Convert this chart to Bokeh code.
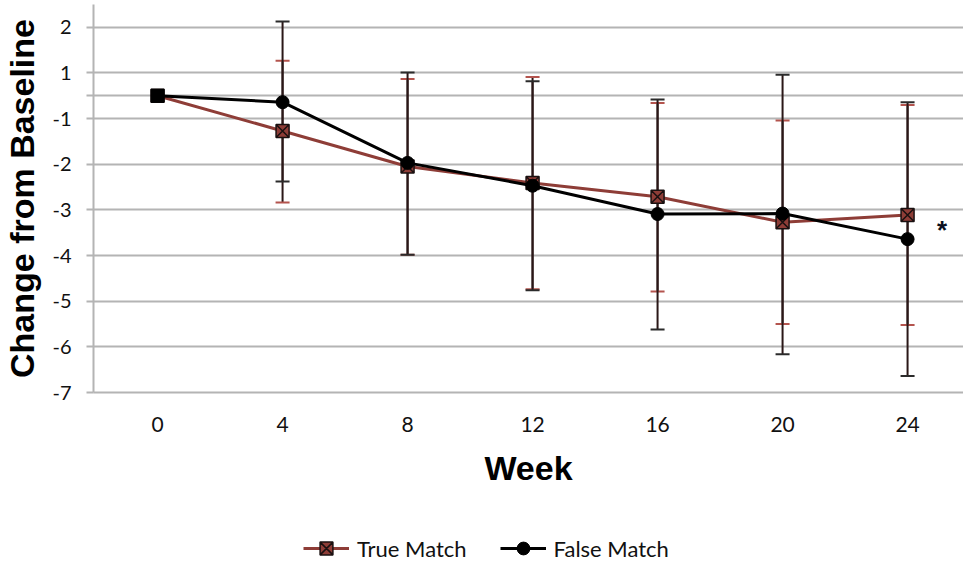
from bokeh.plotting import figure
from bokeh.layouts import column
from bokeh.models import (ColumnDataSource, Whisker, TeeHead, FixedTicker, Range1d,
                          Legend, LegendItem)
from bokeh.core.properties import value
from bokeh.embed import file_html
from bokeh.resources import INLINE

# ---- data ----
weeks = [0, 4, 8, 12, 16, 20, 24]
true_mean = [-0.5, -1.27, -2.05, -2.41, -2.71, -3.27, -3.11]
false_mean = [-0.5, -0.64, -1.97, -2.47, -3.09, -3.08, -3.64]
err_weeks = [4, 8, 12, 16, 20, 24]
true_upper = [0.27, -0.13, -0.09, -0.66, -1.04, -0.70]
true_lower = [-2.84, -3.98, -4.74, -4.79, -5.50, -5.52]
false_upper = [1.13, 0.01, -0.18, -0.58, -0.04, -0.64]
false_lower = [-2.38, -3.98, -4.76, -5.62, -6.16, -6.64]
y_tick_pos = [1, 0, -0.5, -1, -2, -3, -4, -5, -6, -7]
y_tick_labels = ["2", "1", "", "-1", "-2", "-3", "-4", "-5", "-6", "-7"]
x_tick_labels = ["0", "4", "8", "12", "16", "20", "24"]
series_names = ["True Match", "False Match"]
note = "*"

BROWN = "#8e3d37"
BROWN_CAP = "#b4544e"
DARK = "#2a1717"
GRID = "#b4b4b4"

p = figure(width=963, height=515, output_backend="svg", toolbar_location=None,
           x_range=Range1d(-2.05, 25.79), y_range=Range1d(-7, 1.5),
           min_border_left=93, min_border_right=0, min_border_top=4,
           min_border_bottom=123)
p.outline_line_color = None
p.background_fill_color = "white"

# axes
p.xaxis.ticker = FixedTicker(ticks=weeks)
p.xaxis.major_label_overrides = {w: l for w, l in zip(weeks, x_tick_labels)}
p.xaxis.major_tick_out = 0
p.xaxis.major_tick_in = 0
p.xaxis.minor_tick_line_color = None
p.xaxis.axis_line_color = GRID
p.xaxis.axis_line_width = 2
p.xaxis.major_label_standoff = 24
p.xaxis.major_label_text_font = "Lato"
p.xaxis.major_label_text_font_size = "21px"
p.xaxis.major_label_text_color = "#111111"
p.xaxis.axis_label = "Week"
p.xaxis.axis_label_text_font = "Liberation Sans"
p.xaxis.axis_label_text_font_style = "bold"
p.xaxis.axis_label_text_font_size = "34px"
p.xaxis.axis_label_text_color = "#000000"
p.xaxis.axis_label_standoff = 14

p.yaxis.ticker = FixedTicker(ticks=y_tick_pos)
p.yaxis.major_label_overrides = {t: l for t, l in zip(y_tick_pos, y_tick_labels)}
p.yaxis.major_tick_out = 7
p.yaxis.major_tick_in = 0
p.yaxis.major_tick_line_color = GRID
p.yaxis.major_tick_line_width = 2
p.yaxis.minor_tick_line_color = None
p.yaxis.axis_line_color = GRID
p.yaxis.axis_line_width = 2
p.yaxis.major_label_standoff = 15
p.yaxis.major_label_text_font = "Lato"
p.yaxis.major_label_text_font_size = "20px"
p.yaxis.major_label_text_color = "#111111"
p.yaxis.axis_label = "Change from Baseline"
p.yaxis.axis_label_text_font = "Liberation Sans"
p.yaxis.axis_label_text_font_style = "bold"
p.yaxis.axis_label_text_font_size = "34px"
p.yaxis.axis_label_text_color = "#000000"
p.yaxis.axis_label_standoff = 8

p.xgrid.grid_line_color = None
p.ygrid.ticker = FixedTicker(ticks=y_tick_pos)
p.ygrid.grid_line_color = GRID
p.ygrid.grid_line_width = 2

# error bars
src_te = ColumnDataSource(dict(x=err_weeks, up=true_upper, lo=true_lower))
src_fe = ColumnDataSource(dict(x=err_weeks, up=false_upper, lo=false_lower))
w_true = Whisker(source=src_te, base="x", upper="up", lower="lo", dimension="height",
                 line_color=DARK, line_width=2,
                 upper_head=TeeHead(size=14, line_color=BROWN_CAP, line_width=2),
                 lower_head=TeeHead(size=14, line_color=BROWN_CAP, line_width=2))
w_false = Whisker(source=src_fe, base="x", upper="up", lower="lo", dimension="height",
                  line_color=DARK, line_width=2,
                  upper_head=TeeHead(size=14, line_color="#2b2b2b", line_width=2),
                  lower_head=TeeHead(size=14, line_color="#2b2b2b", line_width=2))
p.add_layout(w_true)
p.add_layout(w_false)

# series
src_t = ColumnDataSource(dict(x=weeks, y=true_mean))
false_markers = ["square"] + ["circle"] * (len(weeks) - 1)
src_f = ColumnDataSource(dict(x=weeks, y=false_mean, m=false_markers))

true_line = dict(line_color=BROWN, line_width=3)
true_mark = dict(marker="square_x", size=13, fill_color=BROWN, line_color="#1a1010",
                 line_width=1.5)
false_line = dict(line_color="#000000", line_width=3)
false_mark = dict(size=13, fill_color="#000000", line_color="#000000")

p.line("x", "y", source=src_t, **true_line)
p.scatter("x", "y", source=src_t, **true_mark)
p.line("x", "y", source=src_f, **false_line)
p.scatter("x", "y", source=src_f, marker="m", **false_mark)

# significance mark
p.text(x=[weeks[-1] + 1.1], y=[false_mean[-1] + 0.2], text=[note],
       text_font=value("Liberation Sans"), text_font_style="bold",
       text_font_size="26px", text_color="#0b1020",
       text_align="center", text_baseline="middle")

# legend strip below the chart (frames are aligned by the column layout)
q = figure(width=963, height=50, output_backend="svg", toolbar_location=None,
           x_range=Range1d(0, 1), y_range=Range1d(0, 1),
           min_border_left=0, min_border_right=0, min_border_top=0,
           min_border_bottom=0)
q.outline_line_color = None
q.axis.visible = False
q.grid.visible = False
nan = float("nan")
empty = ColumnDataSource(dict(x=[nan], y=[nan]))
qlt = q.line("x", "y", source=empty, **true_line)
qmt = q.scatter("x", "y", source=empty, **true_mark)
qlf = q.line("x", "y", source=empty, **false_line)
qmf = q.scatter("x", "y", source=empty, marker="circle", **false_mark)

legend = Legend(items=[LegendItem(label=series_names[0], renderers=[qlt, qmt]),
                       LegendItem(label=series_names[1], renderers=[qlf, qmf])],
                location=(210, 1), orientation="horizontal",
                padding=0, margin=0, spacing=33, glyph_width=46, glyph_height=32,
                label_standoff=8, label_text_font="Lato",
                label_text_font_size="22px", label_text_color="#111111",
                background_fill_alpha=0, border_line_color=None)
q.add_layout(legend, "center")

layout = column(p, q, spacing=0)
open("out.html", "w").write(file_html(layout, INLINE))
